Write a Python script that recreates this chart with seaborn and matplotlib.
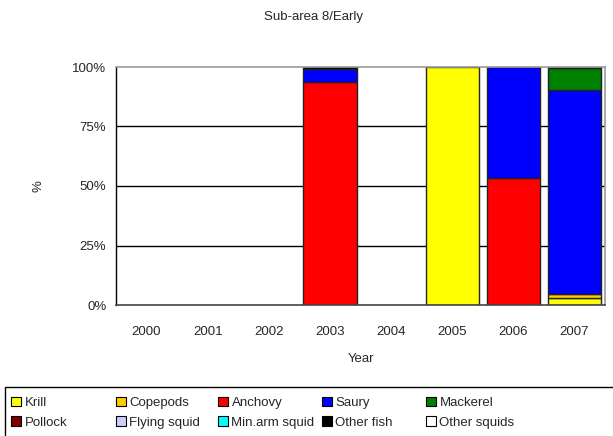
import numpy as np
import pandas as pd
import seaborn as sns
import matplotlib.pyplot as plt
from matplotlib.patches import Patch, Rectangle

years = ["2000", "2001", "2002", "2003", "2004", "2005", "2006", "2007"]
species = ["Krill", "Copepods", "Anchovy", "Saury", "Mackerel",
           "Pollock", "Flying squid", "Min.arm squid", "Other fish", "Other squids"]
colors = ["#FFFF00", "#FFCC00", "#FF0000", "#0000FF", "#008000",
          "#800000", "#CCCCFF", "#00FFFF", "#000000", "#FFFFFF"]

# percent composition by year (stack order bottom -> top)
krill        = [0, 0, 0, 0.0, 0, 100, 0.0, 3.0]
copepods     = [0, 0, 0, 0.0, 0, 0, 0.0, 1.5]
anchovy      = [0, 0, 0, 93.8, 0, 0, 53.5, 0.0]
saury        = [0, 0, 0, 5.5, 0, 0, 46.5, 86.0]
mackerel     = [0, 0, 0, 0.0, 0, 0, 0.0, 9.0]
pollock      = [0, 0, 0, 0.0, 0, 0, 0.0, 0.0]
flying_squid = [0, 0, 0, 0.0, 0, 0, 0.0, 0.0]
minarm_squid = [0, 0, 0, 0.0, 0, 0, 0.0, 0.0]
other_fish   = [0, 0, 0, 0.7, 0, 0, 0.0, 0.5]
other_squids = [0, 0, 0, 0.0, 0, 0, 0.0, 0.0]

df = pd.DataFrame({"Year": years, "Krill": krill, "Copepods": copepods,
                   "Anchovy": anchovy, "Saury": saury, "Mackerel": mackerel,
                   "Pollock": pollock, "Flying squid": flying_squid,
                   "Min.arm squid": minarm_squid, "Other fish": other_fish,
                   "Other squids": other_squids})

sns.set_style("white")
plt.rcParams['font.family'] = ['Liberation Sans', 'DejaVu Sans']

fig = plt.figure(figsize=(6.13, 4.36), dpi=100)
ax = fig.add_axes([116/613, 1 - 305/436, 489/613, 238/436])

for v in [25, 50, 75]:
    ax.axhline(v, color="black", lw=1.0, zorder=0)

bottom = np.zeros(len(years))
for sp, c in zip(species, colors):
    vals = df[sp].values
    mask = vals > 0
    if mask.any():
        sns.barplot(x=df["Year"][mask], y=vals[mask], bottom=bottom[mask], order=years,
                    color=c, saturation=1, width=0.87,
                    edgecolor="#222222", linewidth=1.0, ax=ax, zorder=2)
    bottom = bottom + vals

ax.set_ylim(0, 100)
ax.set_yticks([0, 25, 50, 75, 100])
ax.set_yticklabels(["0%", "25%", "50%", "75%", "100%"], fontsize=9.5)
ax.tick_params(axis="x", labelsize=9.5, pad=15)
ax.tick_params(axis="y", length=0, pad=7)
ax.set_xticks(np.arange(len(years)) - 0.5, minor=True)
ax.tick_params(axis="x", which="major", length=0)
ax.tick_params(axis="x", which="minor", length=5, direction="in", color="#333333")
ax.set_xlim(-0.5, len(years) - 0.5)
for s in ax.spines.values():
    s.set_color("#999999")
    s.set_linewidth(1.2)
ax.spines["bottom"].set_color("#444444")
ax.spines["left"].set_color("#000000")
ax.spines["left"].set_linewidth(1.0)

ax.set_xlabel("Year", fontsize=9.5, labelpad=11)
ax.set_ylabel("%", fontsize=9.5, labelpad=20)
ax.set_title("Sub-area 8/Early", fontsize=9.5, pad=34, x=(313 - 116) / 489)

# legend box across the bottom, one small legend per column
fig.patches.append(Rectangle((5/613, -0.01), 610/613, 49/436 + 0.01, transform=fig.transFigure,
                             facecolor="white", edgecolor="black", linewidth=1.0))
col_x = [8, 113, 215, 319, 423]
handles = [Patch(facecolor=c, edgecolor="black", linewidth=0.8) for c in colors]
for k, x in enumerate(col_x):
    fig.legend([handles[k], handles[k + 5]], [species[k], species[k + 5]],
               loc="upper left", bbox_to_anchor=(x/613, 42/436), frameon=False,
               fontsize=9.5, handlelength=0.75, handleheight=0.75, handletextpad=0.3,
               labelspacing=0.55, borderpad=0.2, borderaxespad=0)

fig.savefig("out.png", dpi=100)
